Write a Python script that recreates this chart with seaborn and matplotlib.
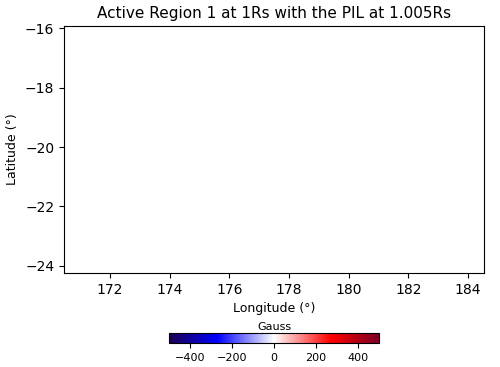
import numpy as np
import pandas as pd
import seaborn as sns
import matplotlib
matplotlib.use("Agg")
import matplotlib.pyplot as plt
from matplotlib.colors import Normalize, LinearSegmentedColormap
from matplotlib.cm import ScalarMappable

# PIL points (none visible in this region)
pil_lon = []
pil_lat = []

lon_lim = [170.46, 184.54]
lat_lim = [-24.24, -15.93]
lon_ticks = [172, 174, 176, 178, 180, 182, 184]
lat_ticks = [-24, -22, -20, -18, -16]
gauss_lim = [-500, 500]
gauss_ticks = [-400, -200, 0, 200, 400]

df = pd.DataFrame({"lon": pd.Series(pil_lon, dtype=float),
                   "lat": pd.Series(pil_lat, dtype=float)})

fig = plt.figure(figsize=(5, 3.67), dpi=100)
ax = fig.add_axes([0.128, 0.256, 0.84, 0.673])

sns.scatterplot(data=df, x="lon", y="lat", ax=ax, color="k", s=4)

ax.set_xlim(lon_lim)
ax.set_ylim(lat_lim)
ax.set_xticks(lon_ticks)
ax.set_yticks(lat_ticks)
ax.set_xlabel("Longitude (°)", fontsize=9)
ax.set_ylabel("Latitude (°)", fontsize=9)
ax.set_title("Active Region 1 at 1Rs with the PIL at 1.005Rs", fontsize=11)

cmap = LinearSegmentedColormap.from_list(
    "gauss",
    [(0.0, "#1c0050"), (0.23, "#0000ff"), (0.5, "#ffffff"),
     (0.77, "#ff0000"), (1.0, "#7a0025")])

cax = fig.add_axes([0.338, 0.065, 0.42, 0.027])
sm = ScalarMappable(norm=Normalize(*gauss_lim), cmap=cmap)
cb = fig.colorbar(sm, cax=cax, orientation="horizontal")
cb.set_ticks(gauss_ticks)
cb.ax.tick_params(labelsize=8)
cb.ax.set_title("Gauss", fontsize=8, pad=2)

fig.savefig("out.png", dpi=100)
